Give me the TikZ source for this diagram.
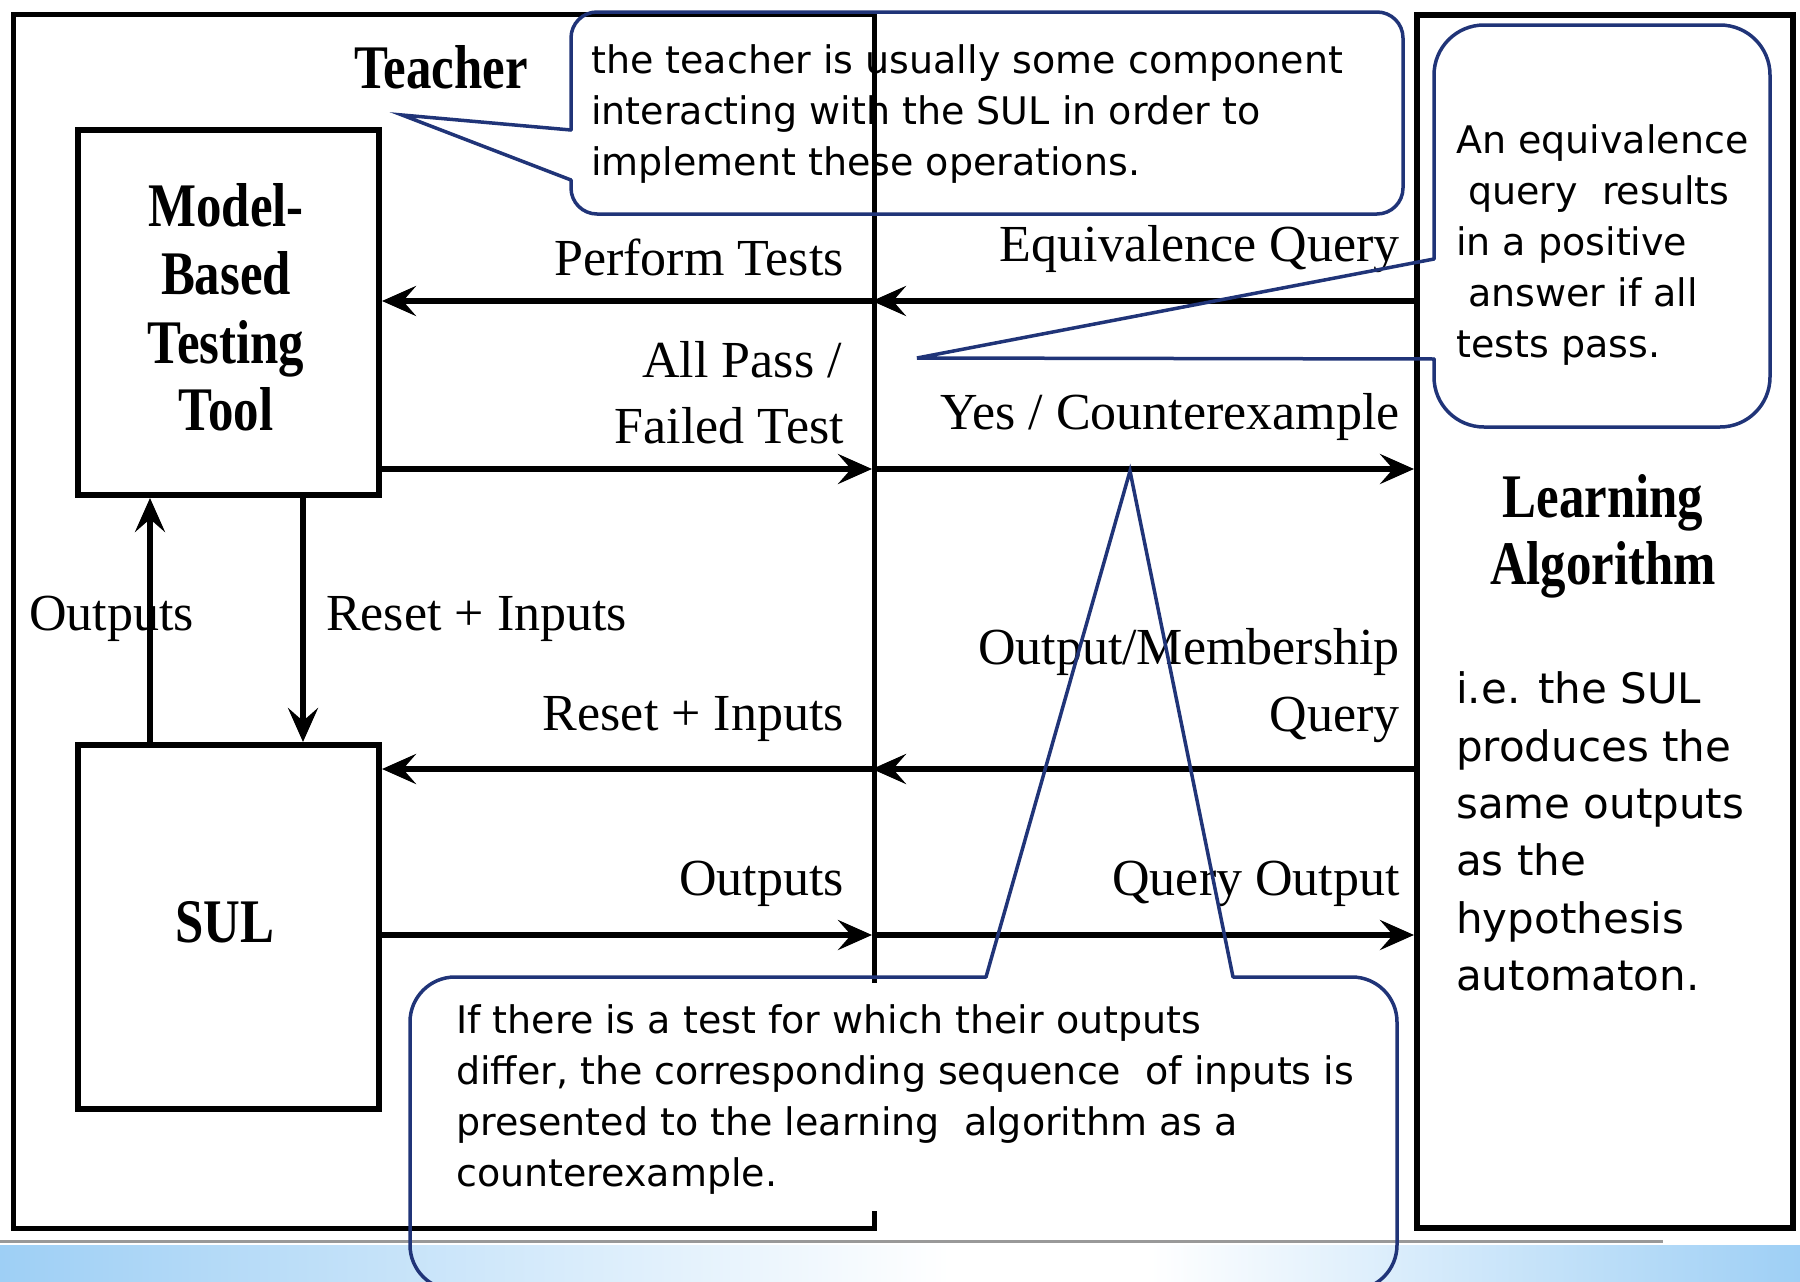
\documentclass[tikz,border=0pt]{standalone}
\usepackage{fontspec}
\usepackage{graphicx}
\setmainfont{Liberation Serif}
\newfontfamily\tbold{Liberation Serif}[FakeStretch=0.82]
\newfontfamily\csans{DejaVu Sans}
\usetikzlibrary{arrows.meta}
\definecolor{callblue}{RGB}{32,52,120}
\definecolor{stripblue}{RGB}{158,207,245}
\tikzset{
  frame/.style={draw=black, line width=5pt, inner sep=0pt, anchor=north west},
  blk/.style={draw=black, line width=6pt, inner sep=0pt, anchor=north west},
  arr/.style={line width=6pt, -{Stealth[length=34pt,width=30pt,inset=13pt]}},
  lbl/.style={inner sep=0pt, font=\fontsize{52}{60}\selectfont},
  bld/.style={inner sep=0pt, anchor=base, font=\tbold\bfseries\fontsize{62}{70}\selectfont},
  ctext/.style={inner sep=0pt, anchor=base west, font=\csans\fontsize{38}{51}\selectfont},
  itext/.style={inner sep=0pt, anchor=base west, font=\csans\fontsize{42}{57}\selectfont},
  callout/.style={draw=callblue, line width=3.5pt, line cap=round},
}
\begin{document}
\begin{tikzpicture}[x=1pt, y=-1pt]
\useasboundingbox (0,0) rectangle (1800,1282);
% bottom strip
\shade[left color=stripblue, right color=white] (0,1245) rectangle (950,1282);
\fill[white] (950,1245) rectangle (1150,1282);
\shade[left color=white, right color=stripblue] (1150,1245) rectangle (1800,1282);
\draw[black!40, line width=3pt] (0,1241) -- (1663,1241);

% frames and boxes
\node[frame, minimum width=861pt, minimum height=1214pt] (teacher) at (11,12) {};
\node[blk, minimum width=376pt, minimum height=1213pt] (la) at (1414,12) {};
\node[blk, minimum width=301pt, minimum height=365pt] (mbt) at (75,127) {};
\node[blk, minimum width=301pt, minimum height=364pt] (sul) at (75,742) {};

% coordinates on the teacher boundary
\coordinate (v1) at (872,301);
\coordinate (v2) at (872,469);
\coordinate (v3) at (872,769);
\coordinate (v4) at (872,935);
\coordinate (h1) at (150,600);
\coordinate (h2) at (303,600);

% arrows
\draw[arr] (la.west |- v1) -- (v1);
\draw[arr] (v1) -- (mbt.east |- v1);
\draw[arr] (mbt.east |- v2) -- (v2);
\draw[arr] (v2) -- (la.west |- v2);
\draw[arr] (la.west |- v3) -- (v3);
\draw[arr] (v3) -- (sul.east |- v3);
\draw[arr] (sul.east |- v4) -- (v4);
\draw[arr] (v4) -- (la.west |- v4);
\draw[arr] (sul.north -| h1) -- (mbt.south -| h1);
\draw[arr] (mbt.south -| h2) -- (sul.north -| h2);

% bold titles
\node[bld] (tteacher) at (441,88) {Teacher};
\node[bld] (tm1) at (226,226) {Model-};
\node[bld] (tm2) at (226,294) {Based};
\node[bld] (tm3) at (226,363) {Testing};
\node[bld] (tm4) at (226,430) {Tool};
\node[bld] (tsul) at (225,942) {SUL};
\node[bld] (tla1) at (1603,517) {Learning};
\node[bld] (tla2) at (1603,584) {Algorithm};

% regular labels
\node[lbl, anchor=base east] (l1) at (844,275) {Perform Tests};
\node[lbl, anchor=base east] (l2) at (842,377) {All Pass /};
\node[lbl, anchor=base east] (l3) at (844,443) {Failed Test};
\node[lbl, anchor=base east] (l4) at (1400,261) {Equivalence Query};
\node[lbl, anchor=base east] (l5) at (1400,429) {Yes / Counterexample};
\node[lbl, anchor=base west] (l6) at (29,630) {Outputs};
\node[lbl, anchor=base west] (l7) at (326,630) {Reset + Inputs};
\node[lbl, anchor=base east] (l8) at (844,730) {Reset + Inputs};
\node[lbl, anchor=base east] (l9) at (844,895) {Outputs};
\node[lbl, anchor=base east] (l10) at (1400,664) {Output/Membership};
\node[lbl, anchor=base east] (l11) at (1400,731) {Query};
\node[lbl, anchor=base east] (l12) at (1400,895) {Query Output};

% i.e. text
\node[itext] (i1) at (1456,703) {i.e. the SUL};
\node[itext] (i2) at (1456,761) {produces the};
\node[itext] (i3) at (1456,818) {same outputs};
\node[itext] (i4) at (1456,875) {as the};
\node[itext] (i5) at (1456,933) {hypothesis};
\node[itext] (i6) at (1456,990) {automaton.};

% callout 1
\node[ctext] (c11) at (591,73) {the teacher is usually some component};
\node[ctext] (c12) at (591,124) {interacting with the SUL in order to};
\node[ctext] (c13) at (591,175) {implement these operations.};
\coordinate (p1a) at (571,130);
\coordinate (p1b) at (571,180);
\coordinate (p1t) at (402,115);
\draw[callout, rounded corners=26pt] (p1a) -- (571,12) -- (1403,12) -- (1403,214) -- (571,214) -- (p1b);
\draw[callout, line join=miter] (p1b) -- (p1t) -- (p1a);

% callout 2
\node[ctext] (c21) at (1456,153) {An equivalence};
\node[ctext] (c22) at (1456,204) {\ query\ \ results};
\node[ctext] (c23) at (1456,255) {in a positive};
\node[ctext] (c24) at (1456,306) {\ answer if all};
\node[ctext] (c25) at (1456,357) {tests pass.};
\coordinate (p2a) at (1434,259);
\coordinate (p2b) at (1434,359);
\coordinate (p2t) at (917,358);
\draw[callout, rounded corners=50pt] (p2a) -- (1434,25) -- (1770,25) -- (1770,427) -- (1434,427) -- (p2b);
\draw[callout, line join=miter] (p2b) -- (p2t) -- (p2a);

% callout 3
\fill[white] (440,983) rectangle (1385,1211);
\node[ctext] (c31) at (456,1033) {If there is a test for which their outputs};
\node[ctext] (c32) at (456,1084) {differ, the corresponding sequence\ \ of inputs is};
\node[ctext] (c33) at (456,1135) {presented to the learning\ \ algorithm as a};
\node[ctext] (c34) at (456,1186) {counterexample.};
\coordinate (p3a) at (986,977);
\coordinate (p3b) at (1233,977);
\coordinate (p3t) at (1130,471);
\draw[callout, rounded corners=45pt] (p3b) -- (1397,977) -- (1397,1290) -- (410,1290) -- (410,977) -- (p3a);
\draw[callout, line join=miter] (p3a) -- (p3t) -- (p3b);
\end{tikzpicture}
\end{document}
